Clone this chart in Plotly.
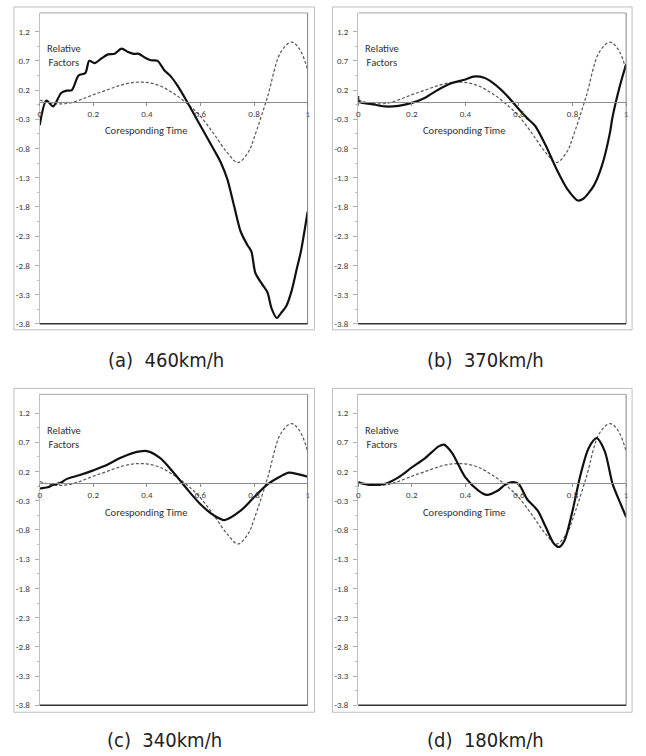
import plotly.graph_objects as go

W, H = 646, 756

# reference (dashed) profile shared by all four panels
ref_t = [0, 0.05, 0.1, 0.15, 0.2, 0.25, 0.3, 0.35, 0.4, 0.45, 0.5, 0.55, 0.6,
         0.65, 0.7, 0.74, 0.78, 0.8, 0.85, 0.9, 0.94, 0.97, 1.0]
ref_v = [0.03, -0.03, -0.03, 0.03, 0.12, 0.2, 0.28, 0.33, 0.33, 0.27, 0.14, -0.03,
         -0.25, -0.55, -0.87, -1.04, -0.85, -0.62, 0.08, 0.85, 1.02, 0.9, 0.55]

# (a) 460 km/h
a_t = [0, 0.025, 0.05, 0.08, 0.1, 0.12, 0.145, 0.17, 0.185, 0.205, 0.23, 0.255,
       0.28, 0.305, 0.33, 0.35, 0.37, 0.395, 0.415, 0.44, 0.465, 0.49, 0.515,
       0.55, 0.6, 0.655, 0.675, 0.7, 0.725, 0.75, 0.775, 0.79, 0.805, 0.83,
       0.85, 0.865, 0.885, 0.9, 0.92, 0.94, 0.96, 0.975, 1.0]
a_v = [-0.40, 0.02, -0.08, 0.15, 0.19, 0.20, 0.45, 0.49, 0.70, 0.66, 0.74, 0.81,
       0.82, 0.91, 0.85, 0.82, 0.82, 0.75, 0.71, 0.70, 0.54, 0.43, 0.27,
       0.0, -0.41, -0.86, -1.03, -1.32, -1.77, -2.22, -2.45, -2.56, -2.93, -3.12,
       -3.26, -3.53, -3.70, -3.62, -3.50, -3.24, -2.85, -2.56, -1.88]

# (b) 370 km/h
b_t = [0, 0.003, 0.05, 0.1, 0.15, 0.2, 0.25, 0.3, 0.35, 0.4, 0.43, 0.47, 0.5,
       0.55, 0.6, 0.63, 0.66, 0.7, 0.74, 0.78, 0.82, 0.84, 0.88, 0.91, 0.94,
       0.948, 0.967, 0.985, 1.0]
b_v = [0.10, 0.0, -0.04, -0.08, -0.07, -0.02, 0.07, 0.21, 0.32, 0.38, 0.43, 0.41,
       0.33, 0.13, -0.13, -0.28, -0.41, -0.75, -1.15, -1.49, -1.69, -1.66, -1.43,
       -1.09, -0.52, -0.29, 0.10, 0.41, 0.64]

# (c) 340 km/h
c_t = [0, 0.03, 0.05, 0.08, 0.1, 0.15, 0.2, 0.25, 0.3, 0.35, 0.4, 0.45, 0.5,
       0.55, 0.6, 0.65, 0.69, 0.75, 0.8, 0.85, 0.9, 0.93, 0.96, 1.0]
c_v = [-0.09, -0.07, -0.03, 0.01, 0.07, 0.14, 0.22, 0.31, 0.43, 0.52, 0.55, 0.43,
       0.18, -0.10, -0.36, -0.55, -0.63, -0.47, -0.24, -0.02, 0.12, 0.18, 0.16, 0.11]

# (d) 180 km/h
d_t = [0, 0.05, 0.1, 0.15, 0.2, 0.25, 0.3, 0.32, 0.35, 0.4, 0.45, 0.48, 0.52,
       0.55, 0.58, 0.6, 0.63, 0.67, 0.7, 0.73, 0.75, 0.77, 0.8, 0.83, 0.86,
       0.89, 0.92, 0.95, 0.98, 1.0]
d_v = [0.01, -0.03, -0.01, 0.10, 0.27, 0.43, 0.63, 0.66, 0.52, 0.10, -0.13, -0.20,
       -0.13, -0.02, 0.02, -0.02, -0.27, -0.47, -0.75, -1.03, -1.09, -0.98, -0.47,
       0.15, 0.60, 0.77, 0.55, -0.02, -0.36, -0.58]

captions = ["(a)  460km/h", "(b)  370km/h", "(c)  340km/h", "(d)  180km/h"]
x_ticks = [0, 0.2, 0.4, 0.6, 0.8, 1]
x_ticktext = ["0", "0.2", "0.4", "0.6", "0.8", "1"]
y_ticks = [1.2, 0.7, 0.2, -0.3, -0.8, -1.3, -1.8, -2.3, -2.8, -3.3, -3.8]
Y_MIN, Y_MAX = -3.8, 1.52

series = [(a_t, a_v), (b_t, b_v), (c_t, c_v), (d_t, d_v)]

# pixel geometry of each panel: plot area (left, right, top, bottom), outer frame, caption
panels = [
    dict(pl=38, pr=308, pt=13, pb=326, fl=12, fr=315, ft=7, fb=332, cx=165, cy=362),
    dict(pl=359, pr=629, pt=13, pb=326, fl=333, fr=635, ft=7, fb=332, cx=487, cy=362),
    dict(pl=38, pr=308, pt=397, pb=710, fl=12, fr=315, ft=391, fb=717, cx=164, cy=745),
    dict(pl=359, pr=629, pt=397, pb=710, fl=333, fr=635, ft=391, fb=717, cx=487, cy=745),
]

def px(x):
    return x / W

def py(y):
    return 1 - y / H

tick_font = dict(family="Carlito, 'Liberation Sans', sans-serif",
                 size=9, color="#404040")
label_font = dict(family="Carlito, 'Liberation Sans', sans-serif",
                  size=10.5, color="#303030")
cap_font = dict(family="'DejaVu Sans Condensed', 'Liberation Sans', sans-serif",
                size=20, color="#222222")

fig = go.Figure()
layout = dict(width=W, height=H, margin=dict(l=0, r=0, t=0, b=0),
              paper_bgcolor="white", plot_bgcolor="white", showlegend=False)
shapes, annotations = [], []

for i, (p, (st, sv)) in enumerate(zip(panels, series)):
    k = "" if i == 0 else str(i + 1)
    xa, ya = "x" + k, "y" + k
    # the horizontal axis crosses at y = 0
    zero_px = p["pt"] + (Y_MAX - 0) / (Y_MAX - Y_MIN) * (p["pb"] - p["pt"])
    layout["xaxis" + k] = dict(
        domain=[px(p["pl"]), px(p["pr"])], range=[0, 1], anchor="free",
        position=py(zero_px), showgrid=False, zeroline=False, showline=True,
        linecolor="#8c8c8c", linewidth=1, ticks="outside", ticklen=3,
        tickcolor="#8c8c8c", tickvals=x_ticks, ticktext=x_ticktext,
        tickfont=tick_font, fixedrange=True)
    layout["yaxis" + k] = dict(
        domain=[py(p["pb"]), py(p["pt"])], range=[Y_MIN, Y_MAX], anchor=xa,
        showgrid=False, zeroline=False, showline=True, linecolor="#c0c0c0",
        linewidth=1, ticks="outside", ticklen=4, tickcolor="#b0b0b0",
        tickvals=y_ticks, ticktext=[f"{v:.1f}" for v in y_ticks],
        tickfont=tick_font, ticklabelstandoff=3,
        minor=dict(tickvals=[v + 0.25 for v in y_ticks[1:]], ticks="outside",
                   ticklen=2, tickcolor="#c0c0c0"),
        fixedrange=True)

    fig.add_trace(go.Scatter(x=ref_t, y=ref_v, xaxis=xa, yaxis=ya, mode="lines",
                             line=dict(color="#555555", width=1.2, dash="3px,2px",
                                       shape="spline", smoothing=1.0),
                             hoverinfo="skip"))
    fig.add_trace(go.Scatter(x=st, y=sv, xaxis=xa, yaxis=ya, mode="lines",
                             line=dict(color="#111111", width=2.2,
                                       shape="spline", smoothing=0.8),
                             hoverinfo="skip"))

    # plot-area borders (top, right, bottom)
    shapes.append(dict(type="line", xref=xa + " domain", yref=ya + " domain",
                       x0=0, x1=1, y0=1, y1=1, line=dict(color="#a6a6a6", width=1)))
    shapes.append(dict(type="line", xref=xa + " domain", yref=ya + " domain",
                       x0=1, x1=1, y0=0, y1=1, line=dict(color="#808080", width=1)))
    shapes.append(dict(type="line", xref=xa + " domain", yref=ya + " domain",
                       x0=0, x1=1, y0=0, y1=0, line=dict(color="#333333", width=1.5)))
    # outer chart frame
    shapes.append(dict(type="rect", xref="paper", yref="paper",
                       x0=px(p["fl"]), x1=px(p["fr"]), y0=py(p["fb"]), y1=py(p["ft"]),
                       line=dict(color="#bdbdbd", width=1), fillcolor="rgba(0,0,0,0)"))

    # axis captions
    annotations.append(dict(xref=xa + " domain", yref="paper", x=0.396,
                            y=py(zero_px + 29), text="Coresponding Time",
                            showarrow=False, font=label_font,
                            xanchor="center", yanchor="middle"))
    annotations.append(dict(xref="paper", yref="paper", x=px(p["pl"] + 24),
                            y=py(p["pt"] + 43), text="Relative<br>Factors",
                            showarrow=False, font=label_font, align="center",
                            xanchor="center", yanchor="middle"))
    annotations.append(dict(xref="paper", yref="paper", x=px(p["cx"]), y=py(p["cy"]),
                            text=captions[i], showarrow=False, font=cap_font,
                            xanchor="center", yanchor="middle"))

layout["shapes"] = shapes
layout["annotations"] = annotations
fig.update_layout(**layout)
fig.write_html("out.html", config={"displayModeBar": False})
